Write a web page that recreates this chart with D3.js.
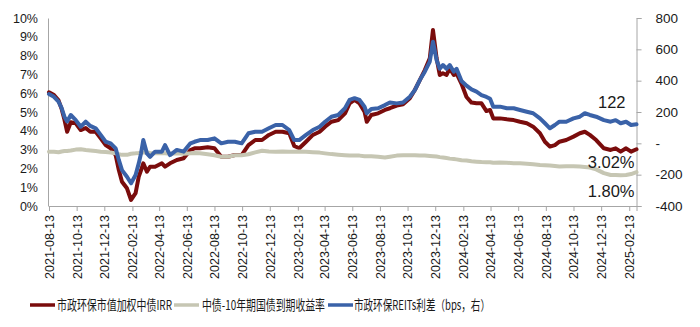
<!DOCTYPE html>
<html>
<head>
<meta charset="utf-8">
<script src="https://cdn.jsdelivr.net/npm/d3@7"></script>
<style>
  html, body { margin: 0; padding: 0; background: #fff; }
  svg { display: block; }
  text { font-family: "Liberation Sans", Arial, sans-serif; fill: #1a1a1a; }
  .cjk { font-family: "Noto Sans CJK SC", "Liberation Sans", sans-serif; }
</style>
</head>
<body>
<svg id="chart" width="700" height="327"></svg>
<script>
// ---------------- DATA ----------------
const dates = [
  "2021-08-13","2021-08-24","2021-09-03","2021-09-10","2021-09-16","2021-09-22","2021-09-30","2021-10-11",
  "2021-10-22","2021-11-02","2021-11-12","2021-11-24","2021-12-05","2021-12-16","2021-12-27","2022-01-07",
  "2022-01-14","2022-01-21","2022-02-01","2022-02-10","2022-02-20","2022-02-27","2022-03-04","2022-03-09",
  "2022-03-17","2022-03-24","2022-04-04","2022-04-19","2022-04-26","2022-05-07","2022-05-22","2022-06-06",
  "2022-06-21","2022-06-30","2022-07-12","2022-07-29","2022-08-13","2022-08-28","2022-09-12","2022-09-27",
  "2022-10-12","2022-10-27","2022-11-11","2022-11-26","2022-12-11","2022-12-26","2023-01-10","2023-01-25",
  "2023-02-05","2023-02-16","2023-03-03","2023-03-18","2023-04-02","2023-04-14","2023-04-28","2023-05-13",
  "2023-05-28","2023-06-07","2023-06-18","2023-06-29","2023-07-10","2023-07-15","2023-07-25","2023-08-09",
  "2023-08-24","2023-09-04","2023-09-19","2023-10-03","2023-10-18","2023-10-29","2023-11-09","2023-11-20",
  "2023-12-01","2023-12-08","2023-12-16","2023-12-23","2023-12-30","2024-01-07","2024-01-14","2024-01-23",
  "2024-01-29","2024-02-09","2024-02-20","2024-03-02","2024-03-13","2024-03-24","2024-04-04","2024-04-12",
  "2024-04-19","2024-05-04","2024-05-19","2024-06-03","2024-06-17","2024-07-02","2024-07-16","2024-07-31",
  "2024-08-11","2024-08-22","2024-09-02","2024-09-12","2024-09-27","2024-10-13","2024-10-27","2024-11-07",
  "2024-11-18","2024-12-02","2024-12-19","2025-01-03","2025-01-14","2025-01-25","2025-02-06","2025-02-17",
  "2025-03-01"
];
// 市政环保市值加权中债IRR (%)
const irr = [
  6.05,5.90,5.62,5.15,4.60,3.95,4.45,4.40,
  4.04,4.15,3.95,3.95,3.60,3.24,3.07,2.71,
  1.91,1.29,0.94,0.32,0.68,1.56,1.90,2.27,
  1.82,2.09,2.09,2.27,2.09,2.27,2.45,2.54,
  2.98,3.07,3.07,3.12,3.07,2.62,2.62,2.71,
  2.71,3.24,3.51,3.51,3.78,3.95,3.95,3.87,
  3.19,3.07,3.42,3.78,3.95,4.22,4.48,4.57,
  4.93,5.46,5.64,5.46,5.02,4.48,4.84,4.93,
  5.11,5.20,5.34,5.41,5.73,6.17,6.70,7.23,
  7.86,9.36,7.86,6.97,7.06,6.97,7.32,6.97,
  7.05,6.50,5.80,5.50,5.46,5.46,5.05,5.11,
  4.66,4.66,4.61,4.57,4.48,4.40,4.22,3.87,
  3.42,3.16,3.24,3.42,3.51,3.69,3.87,3.95,
  3.78,3.51,3.07,2.98,3.07,2.89,3.07,2.89,
  3.02
];
// 中债-10年期国债到期收益率 (%)
const cgb10y = [
  2.89,2.88,2.86,2.90,2.92,2.93,2.95,3.00,
  3.02,2.98,2.95,2.92,2.89,2.87,2.85,2.80,
  2.75,2.72,2.72,2.78,2.80,2.82,2.84,2.85,
  2.84,2.82,2.80,2.80,2.80,2.78,2.80,2.78,
  2.80,2.82,2.80,2.75,2.70,2.62,2.62,2.70,
  2.70,2.75,2.85,2.94,2.90,2.88,2.90,2.89,
  2.88,2.90,2.88,2.86,2.84,2.80,2.76,2.73,
  2.70,2.68,2.68,2.68,2.65,2.65,2.65,2.62,
  2.58,2.62,2.68,2.70,2.70,2.70,2.68,2.68,
  2.66,2.65,2.63,2.60,2.58,2.55,2.52,2.50,
  2.48,2.43,2.42,2.38,2.36,2.34,2.33,2.33,
  2.30,2.31,2.30,2.28,2.27,2.25,2.22,2.18,
  2.17,2.16,2.13,2.10,2.12,2.12,2.10,2.08,
  2.05,1.95,1.75,1.65,1.65,1.63,1.65,1.70,
  1.80
];
// 市政环保REITs利差 (bps, right axis)
const spreadBps = [
  315,297,266,224,170,140,181,148,
  106,138,111,96,54,10,0,-32,
  -106,-171,-213,-255,-202,-128,-64,21,
  -64,-86,-53,-53,-11,-75,-42,-53,
  0,10,21,21,32,0,10,10,
  0,64,74,74,96,117,117,85,
  21,21,54,85,106,138,170,181,
  224,277,288,277,234,192,219,224,
  244,261,255,261,297,340,404,457,
  522,649,532,476,500,476,500,457,
  476,398,368,344,330,308,296,284,
  234,234,224,224,213,202,192,159,
  128,96,117,138,138,159,170,192,
  181,170,148,138,148,128,138,117,
  122
];
const leftTicks = [0,1,2,3,4,5,6,7,8,9,10];
const rightTicks = [-400,-200,0,200,400,600,800];
const xTickLabels = [
  "2021-08-13","2021-10-13","2021-12-13","2022-02-13","2022-04-13","2022-06-13","2022-08-13",
  "2022-10-13","2022-12-13","2023-02-13","2023-04-13","2023-06-13","2023-08-13","2023-10-13",
  "2023-12-13","2024-02-13","2024-04-13","2024-06-13","2024-08-13","2024-10-13","2024-12-13","2025-02-13"
];
const seriesNames = ["市政环保市值加权中债IRR","中债-10年期国债到期收益率","市政环保REITs利差（bps，右）"];
const seriesColors = ["#7a0c0c","#c6c6b3","#3a62a8"];

// ---------------- CHART ----------------
const parse = d3.timeParse("%Y-%m-%d");
const fmt = d3.timeFormat("%Y-%m-%d");
const rows = dates.map((d, i) => ({ date: parse(d), irr: irr[i], cgb: cgb10y[i], spread: spreadBps[i] }));

const svg = d3.select("#chart");
const plot = { left: 49, right: 636.5, top: 18, bottom: 206 };

const x = d3.scaleTime().domain([parse("2021-08-13"), parse("2025-03-01")]).range([plot.left, plot.right]);
const yL = d3.scaleLinear().domain([0, 10]).range([plot.bottom, plot.top]);
const yR = d3.scaleLinear().domain([-400, 800]).range([plot.bottom, plot.top]);

const axisColor = "#a6a6a6";

// left axis
const gL = svg.append("g").attr("transform", `translate(${plot.left - 1},0)`)
  .call(d3.axisLeft(yL).tickValues(leftTicks).tickSize(0).tickPadding(10).tickFormat(d => d + "%"));
gL.select(".domain").attr("stroke", axisColor);
gL.selectAll("text").style("font-size", "12.5px").style("font-family", "Liberation Sans, Arial, sans-serif").attr("fill", "#1a1a1a");

// right axis
const gR = svg.append("g").attr("transform", `translate(${plot.right},0)`)
  .call(d3.axisRight(yR).tickValues(rightTicks).tickSize(5).tickPadding(14)
    .tickFormat(d => d === 0 ? "-" : String(d)));
gR.select(".domain").attr("stroke", axisColor);
gR.selectAll(".tick line").attr("stroke", axisColor);
gR.selectAll("text").style("font-size", "13.5px").style("font-family", "Liberation Sans, Arial, sans-serif").attr("fill", "#1a1a1a");

// bottom axis
const gX = svg.append("g").attr("transform", `translate(0,${plot.bottom})`)
  .call(d3.axisBottom(x).tickValues(xTickLabels.map(parse)).tickSize(5).tickFormat(fmt));
gX.select(".domain").attr("stroke", axisColor);
gX.selectAll(".tick line").attr("stroke", axisColor);
gX.selectAll("text")
  .attr("transform", "rotate(-90)")
  .attr("text-anchor", "end")
  .attr("x", -9).attr("y", 0).attr("dy", "0.35em")
  .style("font-size", "12.5px").style("font-family", "Liberation Sans, Arial, sans-serif").attr("fill", "#1a1a1a");

// lines
const lineIrr = d3.line().x(d => x(d.date)).y(d => yL(d.irr));
const lineCgb = d3.line().x(d => x(d.date)).y(d => yL(d.cgb));
const lineSpr = d3.line().x(d => x(d.date)).y(d => yR(d.spread));

[[lineIrr, 0], [lineCgb, 1], [lineSpr, 2]].forEach(([gen, i]) => {
  svg.append("path").datum(rows)
    .attr("d", gen)
    .attr("fill", "none")
    .attr("stroke", seriesColors[i])
    .attr("stroke-width", 4)
    .attr("stroke-linejoin", "round")
    .attr("stroke-linecap", "round");
});

// end labels
const last = rows[rows.length - 1];
const xl = x(last.date) - 2;
svg.append("text").attr("x", xl - 9).attr("y", yR(last.spread) - 16)
  .attr("text-anchor", "end").style("font-size", "16.5px").text(String(last.spread));
svg.append("text").attr("x", xl).attr("y", yL(last.irr) + 19)
  .attr("text-anchor", "end").style("font-size", "16.5px").text(last.irr.toFixed(2) + "%");
svg.append("text").attr("x", xl).attr("y", yL(last.cgb) + 25)
  .attr("text-anchor", "end").style("font-size", "16.5px").text(last.cgb.toFixed(2) + "%");

// legend
const legendItems = [
  { x0: 30, tx: 57, tw: 115 },
  { x0: 174, tx: 202, tw: 123 },
  { x0: 328, tx: 354, tw: 136 }
];
const ly = 305;
legendItems.forEach((it, i) => {
  svg.append("line").attr("x1", it.x0).attr("x2", it.x0 + 25).attr("y1", ly).attr("y2", ly)
    .attr("stroke", seriesColors[i]).attr("stroke-width", 3.5);
  svg.append("text").attr("class", "cjk").attr("x", it.tx).attr("y", ly + 5)
    .attr("textLength", it.tw).attr("lengthAdjust", "spacingAndGlyphs")
    .style("font-size", "13.5px").text(seriesNames[i]);
});
</script>
</body>
</html>
